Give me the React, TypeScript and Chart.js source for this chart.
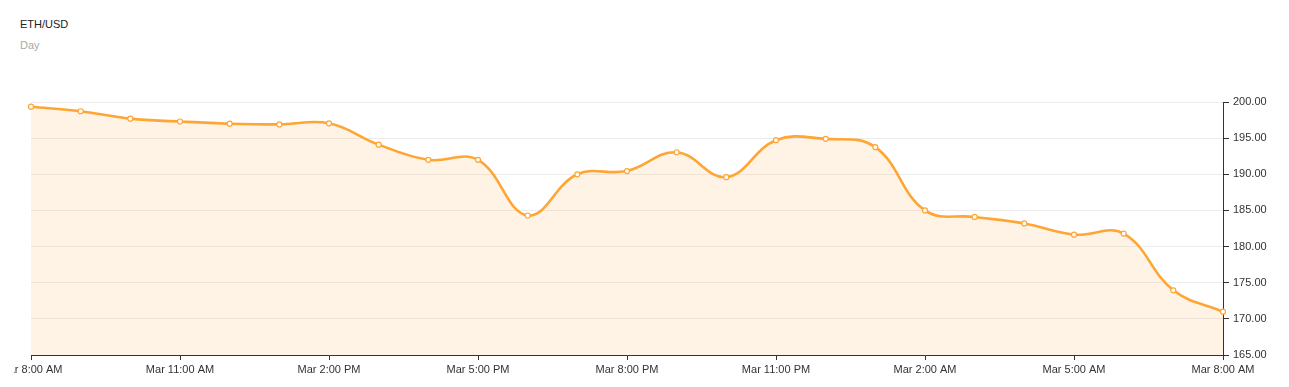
import React, { useEffect, useRef } from "react";
import { Chart, registerables } from "chart.js";

Chart.register(...registerables);

const TITLE = "ETH/USD";
const SUBTITLE = "Day";

const hourLabels = [
  "Mar 8:00 AM", "Mar 9:00 AM", "Mar 10:00 AM", "Mar 11:00 AM", "Mar 12:00 PM",
  "Mar 1:00 PM", "Mar 2:00 PM", "Mar 3:00 PM", "Mar 4:00 PM", "Mar 5:00 PM",
  "Mar 6:00 PM", "Mar 7:00 PM", "Mar 8:00 PM", "Mar 9:00 PM", "Mar 10:00 PM",
  "Mar 11:00 PM", "Mar 12:00 AM", "Mar 1:00 AM", "Mar 2:00 AM", "Mar 3:00 AM",
  "Mar 4:00 AM", "Mar 5:00 AM", "Mar 6:00 AM", "Mar 7:00 AM", "Mar 8:00 AM",
];

const prices = [
  199.35, 198.72, 197.7, 197.3, 197.0, 196.9, 197.05, 194.1, 192.0, 192.0,
  184.3, 190.0, 190.45, 193.05, 189.6, 194.72, 194.9, 193.75, 185.0, 184.1,
  183.2, 181.65, 181.8, 173.95, 171.0,
];

const yMin = 165;
const yMax = 200;
const yStep = 5;
const labelEvery = 3;

export default function App() {
  const ref = useRef<HTMLCanvasElement | null>(null);

  useEffect(() => {
    if (!ref.current) return;
    const chart = new Chart(ref.current, {
      type: "line",
      data: {
        labels: hourLabels,
        datasets: [
          {
            data: prices,
            borderColor: "#FFA534",
            backgroundColor: "rgba(255,165,52,0.13)",
            borderWidth: 2.6,
            fill: "start",
            tension: 0.4,
            pointRadius: 2.5,
            pointBorderWidth: 1.2,
            pointBackgroundColor: "#ffffff",
            pointBorderColor: "#FFA534",
          },
        ],
      },
      options: {
        animation: false,
        responsive: false,
        maintainAspectRatio: false,
        layout: { autoPadding: false, padding: { left: 17, top: 12, right: 0, bottom: 0 } },
        plugins: { legend: { display: false }, tooltip: { enabled: false } },
        scales: {
          x: {
            offset: false,
            grid: { drawOnChartArea: false, tickLength: 5, tickColor: "#333333" },
            border: { color: "#333333", width: 1 },
            ticks: {
              autoSkip: false,
              maxRotation: 0,
              padding: 3,
              color: "#333333",
              font: { family: "'Liberation Sans', Arial, sans-serif", size: 11 },
              callback: (_v: any, i: number) => (i % labelEvery === 0 ? hourLabels[i] : null),
            },
            afterFit: (s: any) => {
              s.height = 25;
              s.paddingLeft = 0;
              s.paddingRight = 0;
            },
          },
          y: {
            position: "right",
            min: yMin,
            max: yMax,
            grid: { color: "#ececec", tickLength: 6, tickColor: "#333333" },
            border: { color: "#333333", width: 1 },
            ticks: {
              stepSize: yStep,
              padding: 4,
              color: "#333333",
              font: { family: "'Liberation Sans', Arial, sans-serif", size: 11 },
              callback: (v: any) => Number(v).toFixed(2),
            },
            afterFit: (s: any) => {
              s.width = 58;
            },
          },
        },
      },
    });
    return () => chart.destroy();
  }, []);

  return (
    <div style={{ position: "relative", height: 380, fontFamily: "'Liberation Sans', Arial, sans-serif" }}>
      <div style={{ position: "absolute", left: 12, top: 10.5, fontSize: 11, lineHeight: "11px", color: "#222" }}>{TITLE}</div>
      <div style={{ position: "absolute", left: 12, top: 32, fontSize: 11, lineHeight: "11px", color: "#a9a9a9" }}>{SUBTITLE}</div>
      <canvas
        ref={ref}
        width={1267}
        height={290}
        style={{ position: "absolute", left: 6, top: 82, width: 1267, height: 290 }}
      />
    </div>
  );
}
